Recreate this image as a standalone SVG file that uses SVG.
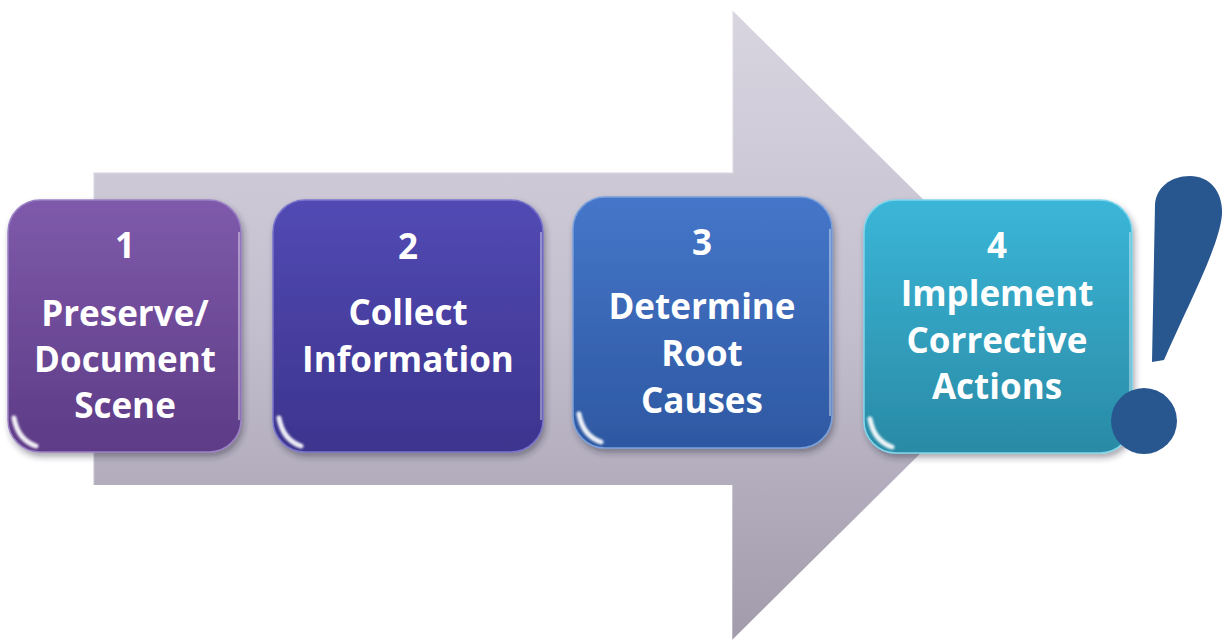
<svg xmlns="http://www.w3.org/2000/svg" width="1223" height="641" viewBox="0 0 1223 641">
  <defs>
    <linearGradient id="arrowGrad" x1="0" y1="0" x2="0" y2="1">
      <stop offset="0" stop-color="#d8d4e0"/>
      <stop offset="0.5" stop-color="#c4bfce"/>
      <stop offset="1" stop-color="#a19bab"/>
    </linearGradient>
    <linearGradient id="g1" x1="0" y1="0" x2="0" y2="1">
      <stop offset="0" stop-color="#7f5aab"/>
      <stop offset="1" stop-color="#5d3b86"/>
    </linearGradient>
    <linearGradient id="g2" x1="0" y1="0" x2="0" y2="1">
      <stop offset="0" stop-color="#524ab4"/>
      <stop offset="1" stop-color="#3c348d"/>
    </linearGradient>
    <linearGradient id="g3" x1="0" y1="0" x2="0" y2="1">
      <stop offset="0" stop-color="#4576c9"/>
      <stop offset="1" stop-color="#2e58a2"/>
    </linearGradient>
    <linearGradient id="g4" x1="0" y1="0" x2="0" y2="1">
      <stop offset="0" stop-color="#3bb6d8"/>
      <stop offset="1" stop-color="#298aa5"/>
    </linearGradient>
    <filter id="shadow" x="-10%" y="-10%" width="125%" height="130%">
      <feDropShadow dx="2" dy="4" stdDeviation="3" flood-color="#2a2438" flood-opacity="0.4"/>
    </filter>
    <filter id="soft" x="-20%" y="-20%" width="140%" height="140%">
      <feGaussianBlur stdDeviation="1.2"/>
    </filter>
  </defs>
  <style>
    .box { stroke-width: 1.5; }
    .hl { fill: none; stroke: #ffffff; stroke-opacity: 0.45; stroke-width: 3; stroke-linecap: round; }
    .gloss { fill: none; stroke: #ffffff; stroke-opacity: 0.9; stroke-width: 5; stroke-linecap: round; }
    .rim { fill: none; stroke: #ffffff; stroke-opacity: 0.4; stroke-width: 2; }
    .label { font-family: "Open Sans", "Liberation Sans", sans-serif; font-weight: 700; font-size: 35px; fill: #ffffff; text-anchor: middle; }
  </style>

  <rect x="0" y="0" width="1223" height="641" fill="#ffffff"/>

  <g id="arrow">
    <polygon points="93,172 732,172 732,10 1050,325 732,640 732,485 93,485" fill="url(#arrowGrad)"/>
    <polyline points="93,485 93,172 732,172 732,10" fill="none" stroke="#ffffff" stroke-opacity="0.6" stroke-width="2.5"/>
    <polyline points="732,485 732,640" fill="none" stroke="#ffffff" stroke-opacity="0.3" stroke-width="2"/>
  </g>

  <g id="connectors"></g>

  <g id="node1">
    <rect class="box" x="8" y="200" width="233" height="252" rx="32" fill="url(#g1)" stroke="#9a80c4" filter="url(#shadow)"/>
    <path class="hl" d="M 40,207 L 209,207" filter="url(#soft)"/>
    <path class="rim" d="M 239,232 L 239,420"/>
    <path class="gloss" d="M 14,418 Q 18,440 36,446" filter="url(#soft)"/>
    <text class="label" x="125" y="258">1</text>
    <text class="label" x="125" y="326">Preserve/</text>
    <text class="label" x="125" y="372">Document</text>
    <text class="label" x="125" y="418">Scene</text>
  </g>

  <g id="node2">
    <rect class="box" x="273" y="200" width="270" height="252" rx="32" fill="url(#g2)" stroke="#7a74cc" filter="url(#shadow)"/>
    <path class="hl" d="M 305,207 L 511,207" filter="url(#soft)"/>
    <path class="rim" d="M 541,232 L 541,420"/>
    <path class="gloss" d="M 279,418 Q 283,440 301,446" filter="url(#soft)"/>
    <text class="label" x="408" y="259">2</text>
    <text class="label" x="408" y="325">Collect</text>
    <text class="label" x="408" y="372">Information</text>
  </g>

  <g id="node3">
    <rect class="box" x="573" y="197" width="259" height="251" rx="32" fill="url(#g3)" stroke="#79a0dc" filter="url(#shadow)"/>
    <path class="hl" d="M 605,204 L 800,204" filter="url(#soft)"/>
    <path class="rim" d="M 830,229 L 830,416"/>
    <path class="gloss" d="M 579,414 Q 583,436 601,442" filter="url(#soft)"/>
    <text class="label" x="702" y="255">3</text>
    <text class="label" x="702" y="319">Determine</text>
    <text class="label" x="702" y="366">Root</text>
    <text class="label" x="702" y="413">Causes</text>
  </g>

  <g id="node4">
    <rect class="box" x="864" y="200" width="268" height="253" rx="32" fill="url(#g4)" stroke="#7fd6ec" filter="url(#shadow)"/>
    <path class="hl" d="M 896,207 L 1100,207" filter="url(#soft)"/>
    <path class="rim" d="M 1130,232 L 1130,421" stroke-opacity="0.7"/>
    <path class="gloss" d="M 870,419 Q 874,441 892,447" filter="url(#soft)"/>
    <text class="label" x="997" y="258">4</text>
    <text class="label" x="997" y="306">Implement</text>
    <text class="label" x="997" y="353">Corrective</text>
    <text class="label" x="997" y="399">Actions</text>
  </g>

  <g id="exclamation">
    <path d="M 1152,362 L 1155,205 C 1156,188 1170,176 1190,176 C 1210,176 1223,192 1222,214 C 1220,245 1188,305 1164,360 Z" fill="#28568f"/>
    <circle cx="1144" cy="421" r="33" fill="#28568f"/>
  </g>
</svg>
